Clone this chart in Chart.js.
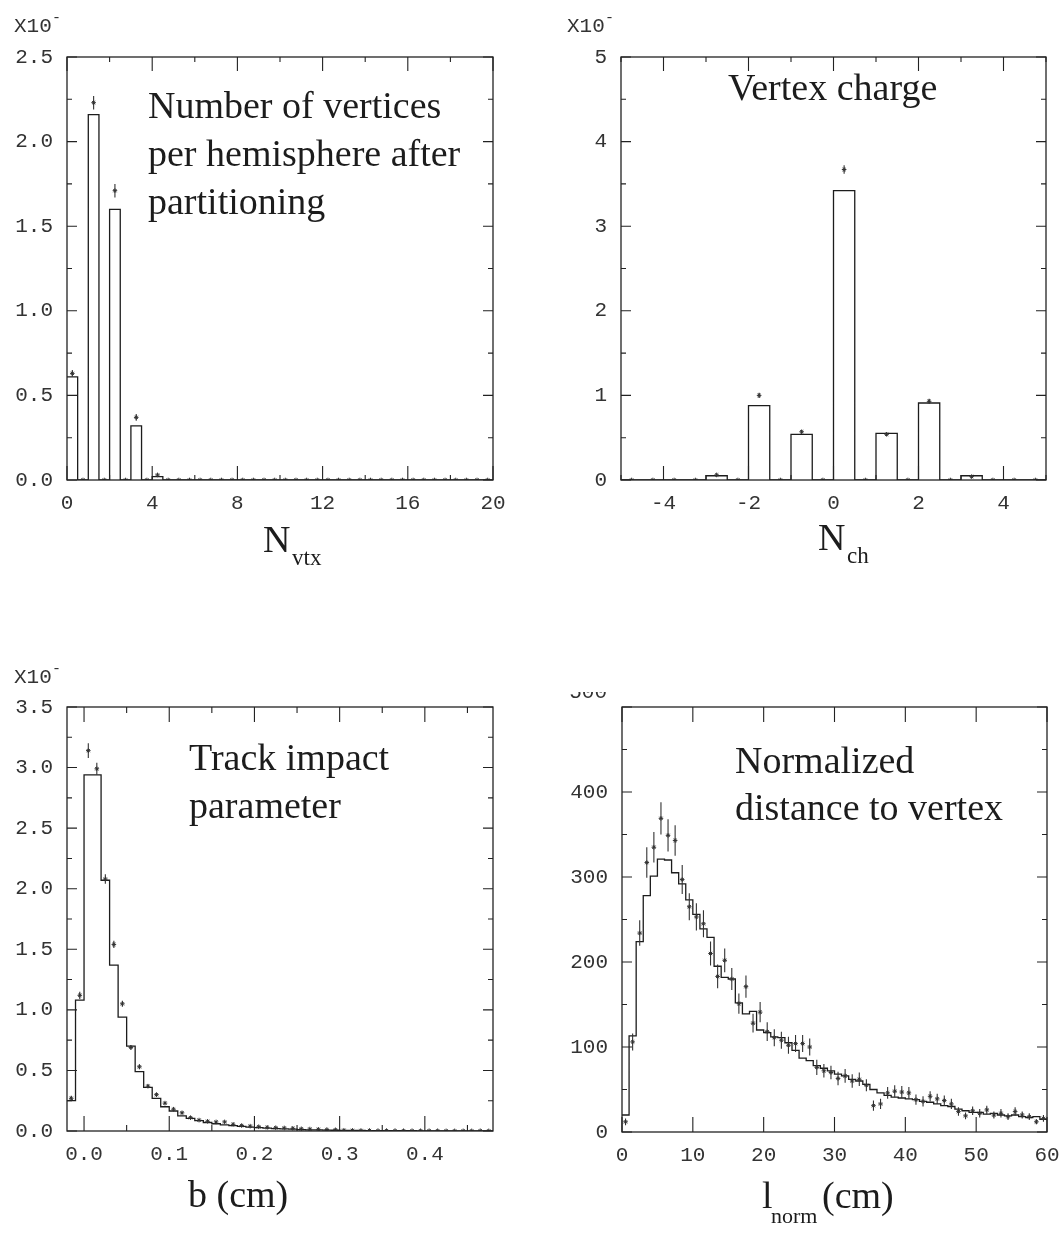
<!DOCTYPE html>
<html>
<head>
<meta charset="utf-8">
<script src="https://cdn.jsdelivr.net/npm/chart.js@4.4.1/dist/chart.umd.min.js"></script>
<style>
  html, body { margin: 0; padding: 0; background: #fff; }
  body { width: 1064px; height: 1235px; position: relative; overflow: hidden; }
  canvas { position: absolute; }
</style>
</head>
<body>
<canvas id="cVtx" width="532" height="600" style="left:0px;top:0px;width:532px;height:600px"></canvas>
<canvas id="cCharge" width="532" height="600" style="left:532px;top:0px;width:532px;height:600px"></canvas>
<canvas id="cImpact" width="532" height="635" style="left:0px;top:600px;width:532px;height:635px"></canvas>
<canvas id="cDist" width="532" height="543" style="left:532px;top:692px;width:532px;height:543px"></canvas>
<script>
// ---------- Number of vertices per hemisphere (bins of 0.5 from 0 to 20) ----------
const nvtxBinLow = 0;
const nvtxBinWidth = 0.5;
const nvtxSim = [
  0.61, 0, 2.16, 0, 1.60, 0, 0.32, 0, 0.02, 0,
  0, 0, 0, 0, 0, 0, 0, 0, 0, 0,
  0, 0, 0, 0, 0, 0, 0, 0, 0, 0,
  0, 0, 0, 0, 0, 0, 0, 0, 0, 0
];
const nvtxData = [
  0.63, 0, 2.23, 0, 1.71, 0, 0.37, 0, 0.03, 0,
  0, 0, 0, 0, 0, 0, 0, 0, 0, 0,
  0, 0, 0, 0, 0, 0, 0, 0, 0, 0,
  0, 0, 0, 0, 0, 0, 0, 0, 0, 0
];
const nvtxErr = [
  0.02, 0, 0.04, 0, 0.04, 0, 0.02, 0, 0.005, 0,
  0, 0, 0, 0, 0, 0, 0, 0, 0, 0,
  0, 0, 0, 0, 0, 0, 0, 0, 0, 0,
  0, 0, 0, 0, 0, 0, 0, 0, 0, 0
];
const nvtxXTicks = [0, 4, 8, 12, 16, 20];
const nvtxYTicks = [0, 0.5, 1.0, 1.5, 2.0, 2.5];

// ---------- Vertex charge (bins of 0.5 from -5 to 5) ----------
const chargeBinLow = -5;
const chargeBinWidth = 0.5;
const chargeSim = [0, 0, 0, 0, 0.05, 0, 0.88, 0, 0.54, 0, 3.42, 0, 0.55, 0, 0.91, 0, 0.05, 0, 0, 0];
const chargeData = [0, 0, 0, 0, 0.06, 0, 1.00, 0, 0.57, 0, 3.67, 0, 0.54, 0, 0.93, 0, 0.04, 0, 0, 0];
const chargeErr = [0, 0, 0, 0, 0.01, 0, 0.03, 0, 0.02, 0, 0.05, 0, 0.02, 0, 0.03, 0, 0.01, 0, 0, 0];
const chargeXTicks = [-4, -2, 0, 2, 4];
const chargeYTicks = [0, 1, 2, 3, 4, 5];

// ---------- Track impact parameter b (bins of 0.01 cm from -0.02 to 0.48) ----------
const impactBinLow = -0.02;
const impactBinWidth = 0.01;
const impactSim = [
  0.25, 1.08, 2.94, 2.94, 2.07, 1.37, 0.94, 0.70, 0.49, 0.36,
  0.27, 0.20, 0.165, 0.125, 0.105, 0.085, 0.07, 0.06, 0.05, 0.045,
  0.038, 0.032, 0.028, 0.024, 0.020, 0.017, 0.015, 0.012, 0.010, 0.009,
  0.007, 0.006, 0.005, 0.004, 0.004, 0.003, 0.003, 0.002, 0.002, 0.002,
  0.002, 0.001, 0.001, 0.001, 0.001, 0.001, 0.001, 0.001, 0.001, 0.001
];
const impactData = [
  0.27, 1.12, 3.14, 2.99, 2.08, 1.54, 1.05, 0.69, 0.53, 0.37,
  0.30, 0.23, 0.18, 0.15, 0.11, 0.09, 0.08, 0.075, 0.075, 0.055,
  0.045, 0.040, 0.035, 0.030, 0.027, 0.025, 0.022, 0.018, 0.016, 0.014,
  0.012, 0.010, 0.006, 0.005, 0.004, 0.004, 0.003, 0.003, 0.003, 0.002,
  0.002, 0.002, 0.002, 0.002, 0.001, 0.001, 0.001, 0.001, 0.002, 0.001
];
const impactErr = [
  0.02, 0.03, 0.06, 0.05, 0.04, 0.03, 0.025, 0.02, 0.02, 0.015,
  0.015, 0.012, 0.012, 0.01, 0.01, 0.01, 0.01, 0.008, 0.008, 0.008,
  0.008, 0.007, 0.007, 0.007, 0.007, 0.006, 0.006, 0.006, 0.006, 0.006,
  0.005, 0.005, 0.005, 0.005, 0.005, 0.005, 0.005, 0.005, 0.005, 0.005,
  0.005, 0.005, 0.005, 0.005, 0.005, 0.005, 0.005, 0.005, 0.005, 0.005
];
const impactXTicks = [0, 0.1, 0.2, 0.3, 0.4];
const impactYTicks = [0, 0.5, 1.0, 1.5, 2.0, 2.5, 3.0, 3.5];

// ---------- Normalized distance to vertex (bins of 1 cm from 0 to 60) ----------
const distBinLow = 0;
const distBinWidth = 1;
const distSim = [
  20, 113, 224, 278, 301, 321, 320, 305, 292, 273,
  256, 239, 229, 195, 182, 180, 152, 139, 142, 120,
  117, 112, 111, 105, 96, 87, 84, 78, 75, 72,
  68, 66, 62, 60, 56, 50, 46, 43, 41, 40,
  39, 38, 36, 35, 33, 31, 30, 27, 25, 23,
  23, 21, 22, 20, 19, 20, 18, 17, 18, 15
];
const distData = [
  12, 106, 234, 317, 335, 369, 349, 343, 297, 265,
  253, 245, 210, 183, 202, 180, 151, 171, 128, 141,
  118, 111, 108, 102, 104, 104, 100, 76, 72, 70,
  63, 66, 60, 62, 55, 31, 33, 46, 48, 47,
  46, 38, 36, 42, 39, 37, 33, 24, 19, 25,
  22, 26, 20, 22, 18, 24, 20, 18, 12, 16
];
const distErr = [
  4, 10, 15, 18, 18, 19, 19, 18, 17, 16,
  16, 16, 14, 14, 14, 13, 12, 13, 11, 12,
  11, 10, 10, 10, 10, 10, 10, 9, 8, 8,
  8, 8, 8, 8, 7, 6, 6, 7, 7, 7,
  7, 6, 6, 6, 6, 6, 6, 5, 4, 5,
  5, 5, 4, 5, 4, 5, 4, 4, 3, 4
];
const distXTicks = [0, 10, 20, 30, 40, 50, 60];
const distYTicks = [0, 100, 200, 300, 400, 500];
const distTopLabel = '500';

// ---------- drawing helpers ----------
const MONO = '"Liberation Mono", "DejaVu Sans Mono", monospace';
const SERIF = '"Liberation Serif", "DejaVu Serif", serif';
const INK = '#1c1c1c';
const TICK_INK = '#333';

// Outline histogram: a stepped line through the lower bin edges plus the closing edge.
function histogramPoints(low, width, values) {
  const pts = values.map((v, i) => ({ x: low + i * width, y: v }));
  pts.push({ x: low + values.length * width, y: values[values.length - 1] });
  return pts;
}
function centerPoints(low, width, values) {
  return values.map((v, i) => ({ x: low + (i + 0.5) * width, y: v }));
}
// Vertical error segments separated by gaps.
function errorSegments(low, width, values, errs) {
  const pts = [];
  values.forEach((v, i) => {
    const e = errs[i];
    if (!e) return;
    const x = low + (i + 0.5) * width;
    pts.push({ x, y: v - e }, { x, y: v + e }, { x, y: null });
  });
  return pts;
}

// Box frame with inward major/minor ticks on all four sides.
const frameTicks = {
  id: 'frameTicks',
  afterDatasetsDraw(chart) {
    const o = chart.options.plugins.frameTicks;
    const { ctx, chartArea: a } = chart;
    const xs = chart.scales.x, ys = chart.scales.y;
    ctx.save();
    ctx.strokeStyle = '#222';
    ctx.lineWidth = 1.3;
    ctx.strokeRect(a.left, a.top, a.right - a.left, a.bottom - a.top);
    ctx.lineWidth = 1.1;
    ctx.beginPath();
    const near = (v, list, step) => list.some(m => Math.abs(m - v) < step * 1e-3);
    const xMaj = xs.ticks.map(t => t.value);
    const yMaj = ys.ticks.map(t => t.value);
    const vTick = (v, len) => {
      const p = xs.getPixelForValue(v);
      ctx.moveTo(p, a.bottom); ctx.lineTo(p, a.bottom - len);
      ctx.moveTo(p, a.top); ctx.lineTo(p, a.top + len);
    };
    const hTick = (v, len) => {
      const p = ys.getPixelForValue(v);
      ctx.moveTo(a.left, p); ctx.lineTo(a.left + len, p);
      ctx.moveTo(a.right, p); ctx.lineTo(a.right - len, p);
    };
    xMaj.forEach(v => vTick(v, o.xMajor));
    yMaj.forEach(v => hTick(v, o.yMajor));
    if (o.xMinor) {
      for (let k = Math.ceil(xs.min / o.xMinor - 1e-6); k * o.xMinor <= xs.max + 1e-9; k++) {
        const v = k * o.xMinor;
        if (!near(v, xMaj, o.xMinor)) vTick(v, o.xMinorLen);
      }
    }
    if (o.yMinor) {
      for (let k = Math.ceil(ys.min / o.yMinor - 1e-6); k * o.yMinor <= ys.max + 1e-9; k++) {
        const v = k * o.yMinor;
        if (!near(v, yMaj, o.yMinor)) hTick(v, o.yMinorLen);
      }
    }
    ctx.stroke();
    ctx.restore();
  }
};

// Captions, axis titles with subscripts and the scale-factor marks.
const panelText = {
  id: 'panelText',
  afterDraw(chart) {
    const o = chart.options.plugins.panelText;
    const ctx = chart.ctx;
    ctx.save();
    o.items.forEach(it => {
      ctx.font = it.font;
      ctx.fillStyle = it.color || INK;
      ctx.textAlign = it.align || 'left';
      ctx.textBaseline = it.baseline || 'alphabetic';
      ctx.fillText(it.text, it.x - o.offsetX, it.y - o.offsetY);
    });
    ctx.restore();
  }
};

function makePanel(canvasId, P) {
  const canvas = document.getElementById(canvasId);
  const tickFont = { family: MONO, size: 21 };
  return new Chart(canvas, {
    type: 'scatter',
    data: {
      datasets: [
        {
          // horizontal run at each bin's height, then the vertical step at the next edge
          data: histogramPoints(P.low, P.width, P.sim),
          showLine: true,
          stepped: 'before',
          borderColor: INK,
          borderWidth: 1.3,
          pointRadius: 0,
          fill: false,
          order: 3
        },
        {
          data: errorSegments(P.low, P.width, P.data, P.err),
          showLine: true,
          spanGaps: false,
          borderColor: '#333',
          borderWidth: 1.1,
          pointRadius: 0,
          fill: false,
          order: 2
        },
        {
          data: centerPoints(P.low, P.width, P.data),
          showLine: false,
          pointStyle: 'star',
          pointRadius: 2.3,
          borderColor: '#333',
          borderWidth: 1,
          backgroundColor: '#333',
          order: 1
        }
      ]
    },
    options: {
      responsive: false,
      animation: false,
      devicePixelRatio: 1,
      events: [],
      layout: { padding: { left: 0, top: P.padTop, right: P.padRight, bottom: 0 } },
      plugins: {
        legend: { display: false },
        tooltip: { enabled: false },
        title: { display: false },
        frameTicks: P.ticks,
        panelText: { items: P.texts, offsetX: P.offsetX, offsetY: P.offsetY }
      },
      scales: {
        x: {
          type: 'linear',
          min: P.xMin,
          max: P.xMax,
          afterBuildTicks: s => { s.ticks = P.xTicks.map(v => ({ value: v })); },
          afterFit: s => {
            s.height = P.xHeight;
            s.paddingLeft = 0; s.paddingRight = 0; s.paddingTop = 0; s.paddingBottom = 0;
          },
          grid: { display: false, drawTicks: false },
          border: { display: false },
          ticks: {
            font: tickFont, color: TICK_INK, padding: 11,
            maxRotation: 0, autoSkip: false,
            callback: v => P.xFmt(v)
          }
        },
        y: {
          type: 'linear',
          min: P.yMin,
          max: P.yMax,
          afterBuildTicks: s => { s.ticks = P.yTicks.map(v => ({ value: v })); },
          afterFit: s => {
            s.width = P.yWidth;
            s.paddingLeft = 0; s.paddingRight = 0; s.paddingTop = 0; s.paddingBottom = 0;
          },
          grid: { display: false, drawTicks: false },
          border: { display: false },
          ticks: {
            font: tickFont, color: TICK_INK, padding: 14,
            autoSkip: false,
            callback: v => P.yFmt(v)
          }
        }
      }
    },
    plugins: [frameTicks, panelText]
  });
}

const big = '38px ' + SERIF;
const sub = '23px ' + SERIF;
const mono = '21px ' + MONO;
const monoSup = '15px ' + MONO;

makePanel('cVtx', {
  low: nvtxBinLow, width: nvtxBinWidth, sim: nvtxSim, data: nvtxData, err: nvtxErr,
  xMin: 0, xMax: 20, yMin: 0, yMax: 2.5,
  xTicks: nvtxXTicks, yTicks: nvtxYTicks,
  xFmt: v => String(v), yFmt: v => v.toFixed(1),
  padTop: 57, padRight: 39, yWidth: 67, xHeight: 120,
  ticks: { xMajor: 14, xMinor: 2, xMinorLen: 5, yMajor: 10, yMinor: 0.25, yMinorLen: 5 },
  offsetX: 0, offsetY: 0,
  texts: [
    { text: 'X10', x: 14, y: 32, font: mono, color: TICK_INK },
    { text: '-', x: 52, y: 22, font: monoSup, color: TICK_INK },
    { text: 'Number of vertices', x: 148, y: 118, font: big },
    { text: 'per hemisphere after', x: 148, y: 166, font: big },
    { text: 'partitioning', x: 148, y: 214, font: big },
    { text: 'N', x: 263, y: 552, font: big },
    { text: 'vtx', x: 292, y: 565, font: sub }
  ]
});

makePanel('cCharge', {
  low: chargeBinLow, width: chargeBinWidth, sim: chargeSim, data: chargeData, err: chargeErr,
  xMin: -5, xMax: 5, yMin: 0, yMax: 5,
  xTicks: chargeXTicks, yTicks: chargeYTicks,
  xFmt: v => String(v), yFmt: v => String(v),
  padTop: 57, padRight: 18, yWidth: 89, xHeight: 120,
  ticks: { xMajor: 14, xMinor: 1, xMinorLen: 5, yMajor: 10, yMinor: 0.5, yMinorLen: 5 },
  offsetX: 532, offsetY: 0,
  texts: [
    { text: 'X10', x: 567, y: 32, font: mono, color: TICK_INK },
    { text: '-', x: 605, y: 22, font: monoSup, color: TICK_INK },
    { text: 'Vertex charge', x: 728, y: 100, font: big },
    { text: 'N', x: 818, y: 550, font: big },
    { text: 'ch', x: 847, y: 563, font: sub }
  ]
});

makePanel('cImpact', {
  low: impactBinLow, width: impactBinWidth, sim: impactSim, data: impactData, err: impactErr,
  xMin: -0.02, xMax: 0.48, yMin: 0, yMax: 3.5,
  xTicks: impactXTicks, yTicks: impactYTicks,
  xFmt: v => v.toFixed(1), yFmt: v => v.toFixed(1),
  padTop: 107, padRight: 39, yWidth: 67, xHeight: 104,
  ticks: { xMajor: 15, xMinor: 0.05, xMinorLen: 6, yMajor: 10, yMinor: 0.25, yMinorLen: 5 },
  offsetX: 0, offsetY: 600,
  texts: [
    { text: 'X10', x: 14, y: 683, font: mono, color: TICK_INK },
    { text: '-', x: 52, y: 673, font: monoSup, color: TICK_INK },
    { text: 'Track impact', x: 189, y: 770, font: big },
    { text: 'parameter', x: 189, y: 818, font: big },
    { text: 'b (cm)', x: 188, y: 1207, font: big }
  ]
});

makePanel('cDist', {
  low: distBinLow, width: distBinWidth, sim: distSim, data: distData, err: distErr,
  xMin: 0, xMax: 60, yMin: 0, yMax: 500,
  xTicks: distXTicks, yTicks: distYTicks,
  xFmt: v => String(v), yFmt: v => (v === 500 ? '' : String(v)),
  padTop: 15, padRight: 17, yWidth: 90, xHeight: 103,
  ticks: { xMajor: 15, xMinor: 0, xMinorLen: 0, yMajor: 10, yMinor: 50, yMinorLen: 5 },
  offsetX: 532, offsetY: 692,
  texts: [
    { text: distTopLabel, x: 607, y: 692, font: mono, color: TICK_INK, align: 'right', baseline: 'middle' },
    { text: 'Normalized', x: 735, y: 773, font: big },
    { text: 'distance to vertex', x: 735, y: 820, font: big },
    { text: 'l', x: 762, y: 1208, font: big },
    { text: 'norm', x: 771, y: 1223, font: '22px ' + SERIF },
    { text: '(cm)', x: 822, y: 1208, font: big }
  ]
});
</script>
</body>
</html>
